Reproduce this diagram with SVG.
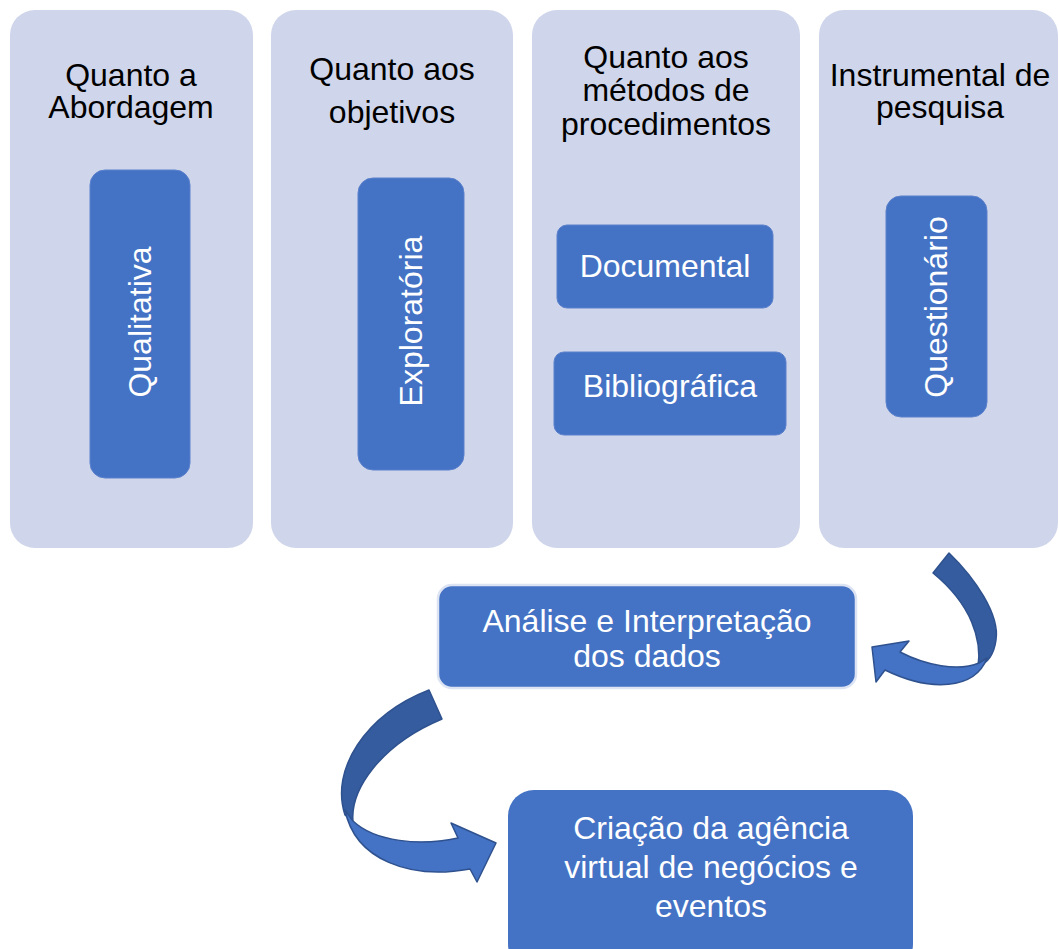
<svg xmlns="http://www.w3.org/2000/svg" width="1059" height="949" viewBox="0 0 1059 949">
<style>
.col{fill:#CFD5EA;}
.box{fill:#4472C4;stroke:#5B81CC;stroke-width:1;}
.h{font-family:"Liberation Sans",Arial,sans-serif;font-size:32px;fill:#000;text-anchor:middle;}
.t{font-family:"Liberation Sans",Arial,sans-serif;font-size:32px;fill:#fff;text-anchor:middle;}
.dark{fill:#345C9F;stroke:#2F528F;stroke-width:1.5;stroke-linejoin:round;}
.light{fill:#4472C4;stroke:#2F528F;stroke-width:1.5;stroke-linejoin:round;}
</style>
<rect width="1059" height="949" fill="#fff"/>
<g id="col-abordagem">
<rect class="col" x="10" y="10" width="243" height="538" rx="25"/>
<text class="h" x="131" y="86">Quanto a</text>
<text class="h" x="131" y="118">Abordagem</text>
</g>
<g id="col-objetivos">
<rect class="col" x="271" y="10" width="242" height="538" rx="25"/>
<text class="h" x="392" y="80">Quanto aos</text>
<text class="h" x="392" y="123">objetivos</text>
</g>
<g id="col-metodos">
<rect class="col" x="532" y="10" width="268" height="538" rx="25"/>
<text class="h" x="666" y="68">Quanto aos</text>
<text class="h" x="666" y="101">métodos de</text>
<text class="h" x="666" y="135">procedimentos</text>
</g>
<g id="col-instrumental">
<rect class="col" x="819" y="10" width="239" height="538" rx="25"/>
<text class="h" x="940" y="86">Instrumental de</text>
<text class="h" x="940" y="118">pesquisa</text>
</g>
<g id="qualitativa">
<rect class="box" x="90" y="170" width="100" height="308" rx="15"/>
<text class="t" transform="translate(140,322) rotate(-90)" dy="11">Qualitativa</text>
</g>
<g id="exploratoria">
<rect class="box" x="358" y="178" width="106" height="292" rx="15"/>
<text class="t" transform="translate(411,321) rotate(-90)" dy="11">Exploratória</text>
</g>
<g id="documental">
<rect class="box" x="557" y="225" width="216" height="83" rx="10"/>
<text class="t" x="665" y="277">Documental</text>
</g>
<g id="bibliografica">
<rect class="box" x="554" y="352" width="232" height="83" rx="10"/>
<text class="t" x="670" y="397">Bibliográfica</text>
</g>
<g id="questionario">
<rect class="box" x="886" y="196" width="101" height="221" rx="15"/>
<text class="t" transform="translate(936,307) rotate(-90)" dy="11">Questionário</text>
</g>
<g id="analise">
<rect x="438" y="585" width="418" height="103" rx="14" fill="#4472C4" stroke="#DCE3F2" stroke-width="2.5"/>
<text class="t" x="647" y="632">Análise e Interpretação</text>
<text class="t" x="647" y="667">dos dados</text>
</g>
<g id="criacao">
<rect x="508" y="790" width="405" height="180" rx="26" fill="#4472C4"/>
<text class="t" x="711" y="839">Criação da agência</text>
<text class="t" x="711" y="878">virtual de negócios e</text>
<text class="t" x="711" y="917">eventos</text>
</g>
<g id="connectors">
<path class="dark" d="M933,573 L949,553 C975,578 1000,615 996,640 C994,655 988,662 978,667 C982,640 972,605 933,573 Z"/>
<path class="light" d="M987,658 C975,690 930,692 885,670 L876,682 L872,647 L909,641 L900,652 C925,665 958,672 979,663 Z"/>
<path class="dark" d="M429,690 C365,715 330,770 345,815 L353,822 C350,790 380,745 442,719 Z"/>
<path class="light" d="M345,810 C355,860 410,880 470,869 L477,882 L496,843 L451,823 L458,838 C420,846 375,842 353,821 Z"/>
</g>
</svg>
